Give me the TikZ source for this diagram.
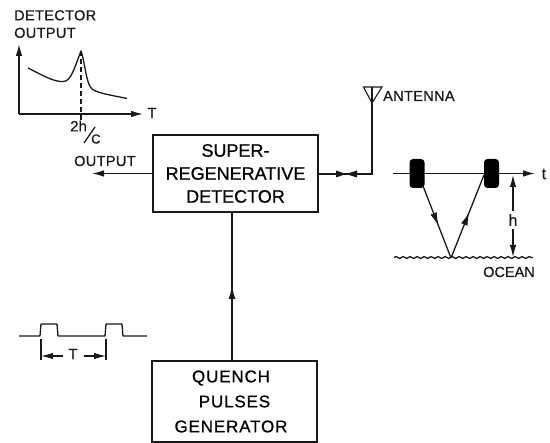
\documentclass[tikz,border=0pt]{standalone}
\usepackage{fontspec}
\setmainfont[RawFeature={embolden=0.7}]{Liberation Sans}
\newfontfamily\wide[RawFeature={embolden=0.7},LetterSpace=5]{Liberation Sans}
\newfontfamily\semi[RawFeature={embolden=0.7},LetterSpace=2.5]{Liberation Sans}
\usetikzlibrary{arrows.meta,decorations.pathmorphing,decorations.markings}
\tikzset{
  ln/.style={line width=1.3pt,black!90},
  thin ln/.style={line width=1.1pt,black!90},
  blockbox/.style={draw=black!90,line width=1.4pt,minimum width=165pt,align=center,inner sep=0pt},
  lbl/.style={font=\semi\fontsize{14.5}{17.5}\selectfont,inner sep=0pt,align=left,black!90},
  big/.style={font=\fontsize{16}{18}\selectfont,inner sep=0pt,black!90},
  tip/.style={-{Latex[length=12pt,width=6.5pt]}},
  midtip/.style={postaction={decorate},decoration={markings,mark=at position #1 with {\arrow{Latex[length=13pt,width=7pt]}}}},
  pulse/.style={fill=black,rounded corners=3.5pt,minimum width=15pt,minimum height=29pt,inner sep=0pt},
}
\begin{document}
\begin{tikzpicture}[x=1pt,y=-1pt]
\useasboundingbox (0,0) rectangle (550,443);
% blocks
\node[blockbox,minimum height=77pt,font=\fontsize{18}{23}\selectfont] (det) at (235.5,173.5) {SUPER-\\REGENERATIVE\\DETECTOR};
\node[blockbox,minimum height=81pt,font=\wide\fontsize{17}{25}\selectfont] (quench) at (234.5,401.5) {QUENCH\hspace*{7pt}\\PULSES\hspace*{7pt}\\GENERATOR\hspace*{7pt}};
% connector
\coordinate (qtop) at (232,360);
\coordinate (dbot) at (232,212);
\draw[ln,midtip=0.5] (qtop) -- (dbot);
% output
\coordinate (outend) at (92,173.5);
\draw[ln,tip] (det.west) -- (outend);
\node[lbl,anchor=west] (outl) at (74,161) {OUTPUT};
% antenna
\coordinate (ant) at (372,103);
\coordinate (antA) at (363.5,87);
\coordinate (antB) at (382,87);
\coordinate (antC) at (372,174);
\draw[thin ln] (antA) -- (antB) -- (ant) -- cycle;
\draw[thin ln] (372,87) -- (ant);
\draw[ln] (ant) -- (antC) -- (det.east |- antC);
\fill[black!90] (346,174) -- (336,170.5) -- (336,177.5) -- cycle;
\fill[black!90] (346,174) -- (357,170.5) -- (357,177.5) -- cycle;
\node[lbl,anchor=west] (antl) at (383,96) {ANTENNA};
% detector output graph
\node[lbl,anchor=north west] (dol) at (14,10) {DETECTOR\\OUTPUT};
\coordinate (orig) at (19,114);
\coordinate (ytop) at (19,44);
\coordinate (xend) at (143,114);
\draw[ln,tip] (orig) -- (ytop);
\draw[ln,tip] (orig) -- (xend);
\node[lbl,font=\fontsize{15}{15}\selectfont] (tl) at (152,113) {T};
\coordinate (peak) at (81,51);
\coordinate (peakb) at (81,122);
\draw[ln,line join=round] (28,68) .. controls (42,75) and (50,80) .. (60,81.5) .. controls (70,83) and (72,75) .. (peak) .. controls (85,62) and (86,84) .. (92,89) .. controls (97,93) and (110,95) .. (127,98.5);
\draw[thin ln,dash pattern=on 5pt off 3pt] (peak) -- (peakb);
\node[lbl,anchor=west,font=\fontsize{15}{15}\selectfont] (h2) at (70,126) {2h};
\draw[ln] (95,127) -- (84,143);
\node[lbl,anchor=west,font=\fontsize{13}{14}\selectfont] (cl) at (91,139) {C};
% echo diagram
\coordinate (tstart) at (393,173.5);
\coordinate (tend) at (535,173.5);
\draw[ln,tip] (tstart) -- (tend);
\node[big] (tlab) at (544,174) {t};
\node[pulse] (p1) at (417,173.5) {};
\node[pulse] (p2) at (491.5,173.5) {};
\coordinate (bounce) at (451,258);
\draw[ln,midtip=0.55] (423,186) -- (bounce);
\draw[ln,midtip=0.55] (bounce) -- (484,175);
\draw[ln,decorate,decoration={snake,amplitude=0.9pt,segment length=7pt}] (394,257.5) -- (533,257.5);
\coordinate (htop) at (513,175);
\coordinate (hbot) at (513,257);
\node[big] (hl) at (513,220) {h};
\draw[thin ln,tip] (hl.north) ++(0,-3) -- (htop);
\draw[thin ln,tip] (hl.south) ++(0,3) -- (hbot);
\node[lbl,anchor=west,font=\fontsize{14.5}{17.5}\selectfont] (ocean) at (483,272) {OCEAN};
% pulse train
\draw[ln,line join=round] (19,336) -- (40,336) -- (41,324) -- (57,324) -- (58,336) -- (105,336) -- (106,324) -- (122,324) -- (123,336) -- (147,336);
\coordinate (ta) at (41,339);
\coordinate (tb) at (41,360);
\coordinate (tc) at (106,339);
\coordinate (td) at (106,360);
\draw[thin ln] (ta) -- (tb);
\draw[thin ln] (tc) -- (td);
\node[lbl,font=\fontsize{15}{15}\selectfont] (tt) at (73,354) {T};
\draw[thin ln,tip] (63,356) -- (41,356);
\draw[thin ln,tip] (84,356) -- (106,356);
\end{tikzpicture}
\end{document}
